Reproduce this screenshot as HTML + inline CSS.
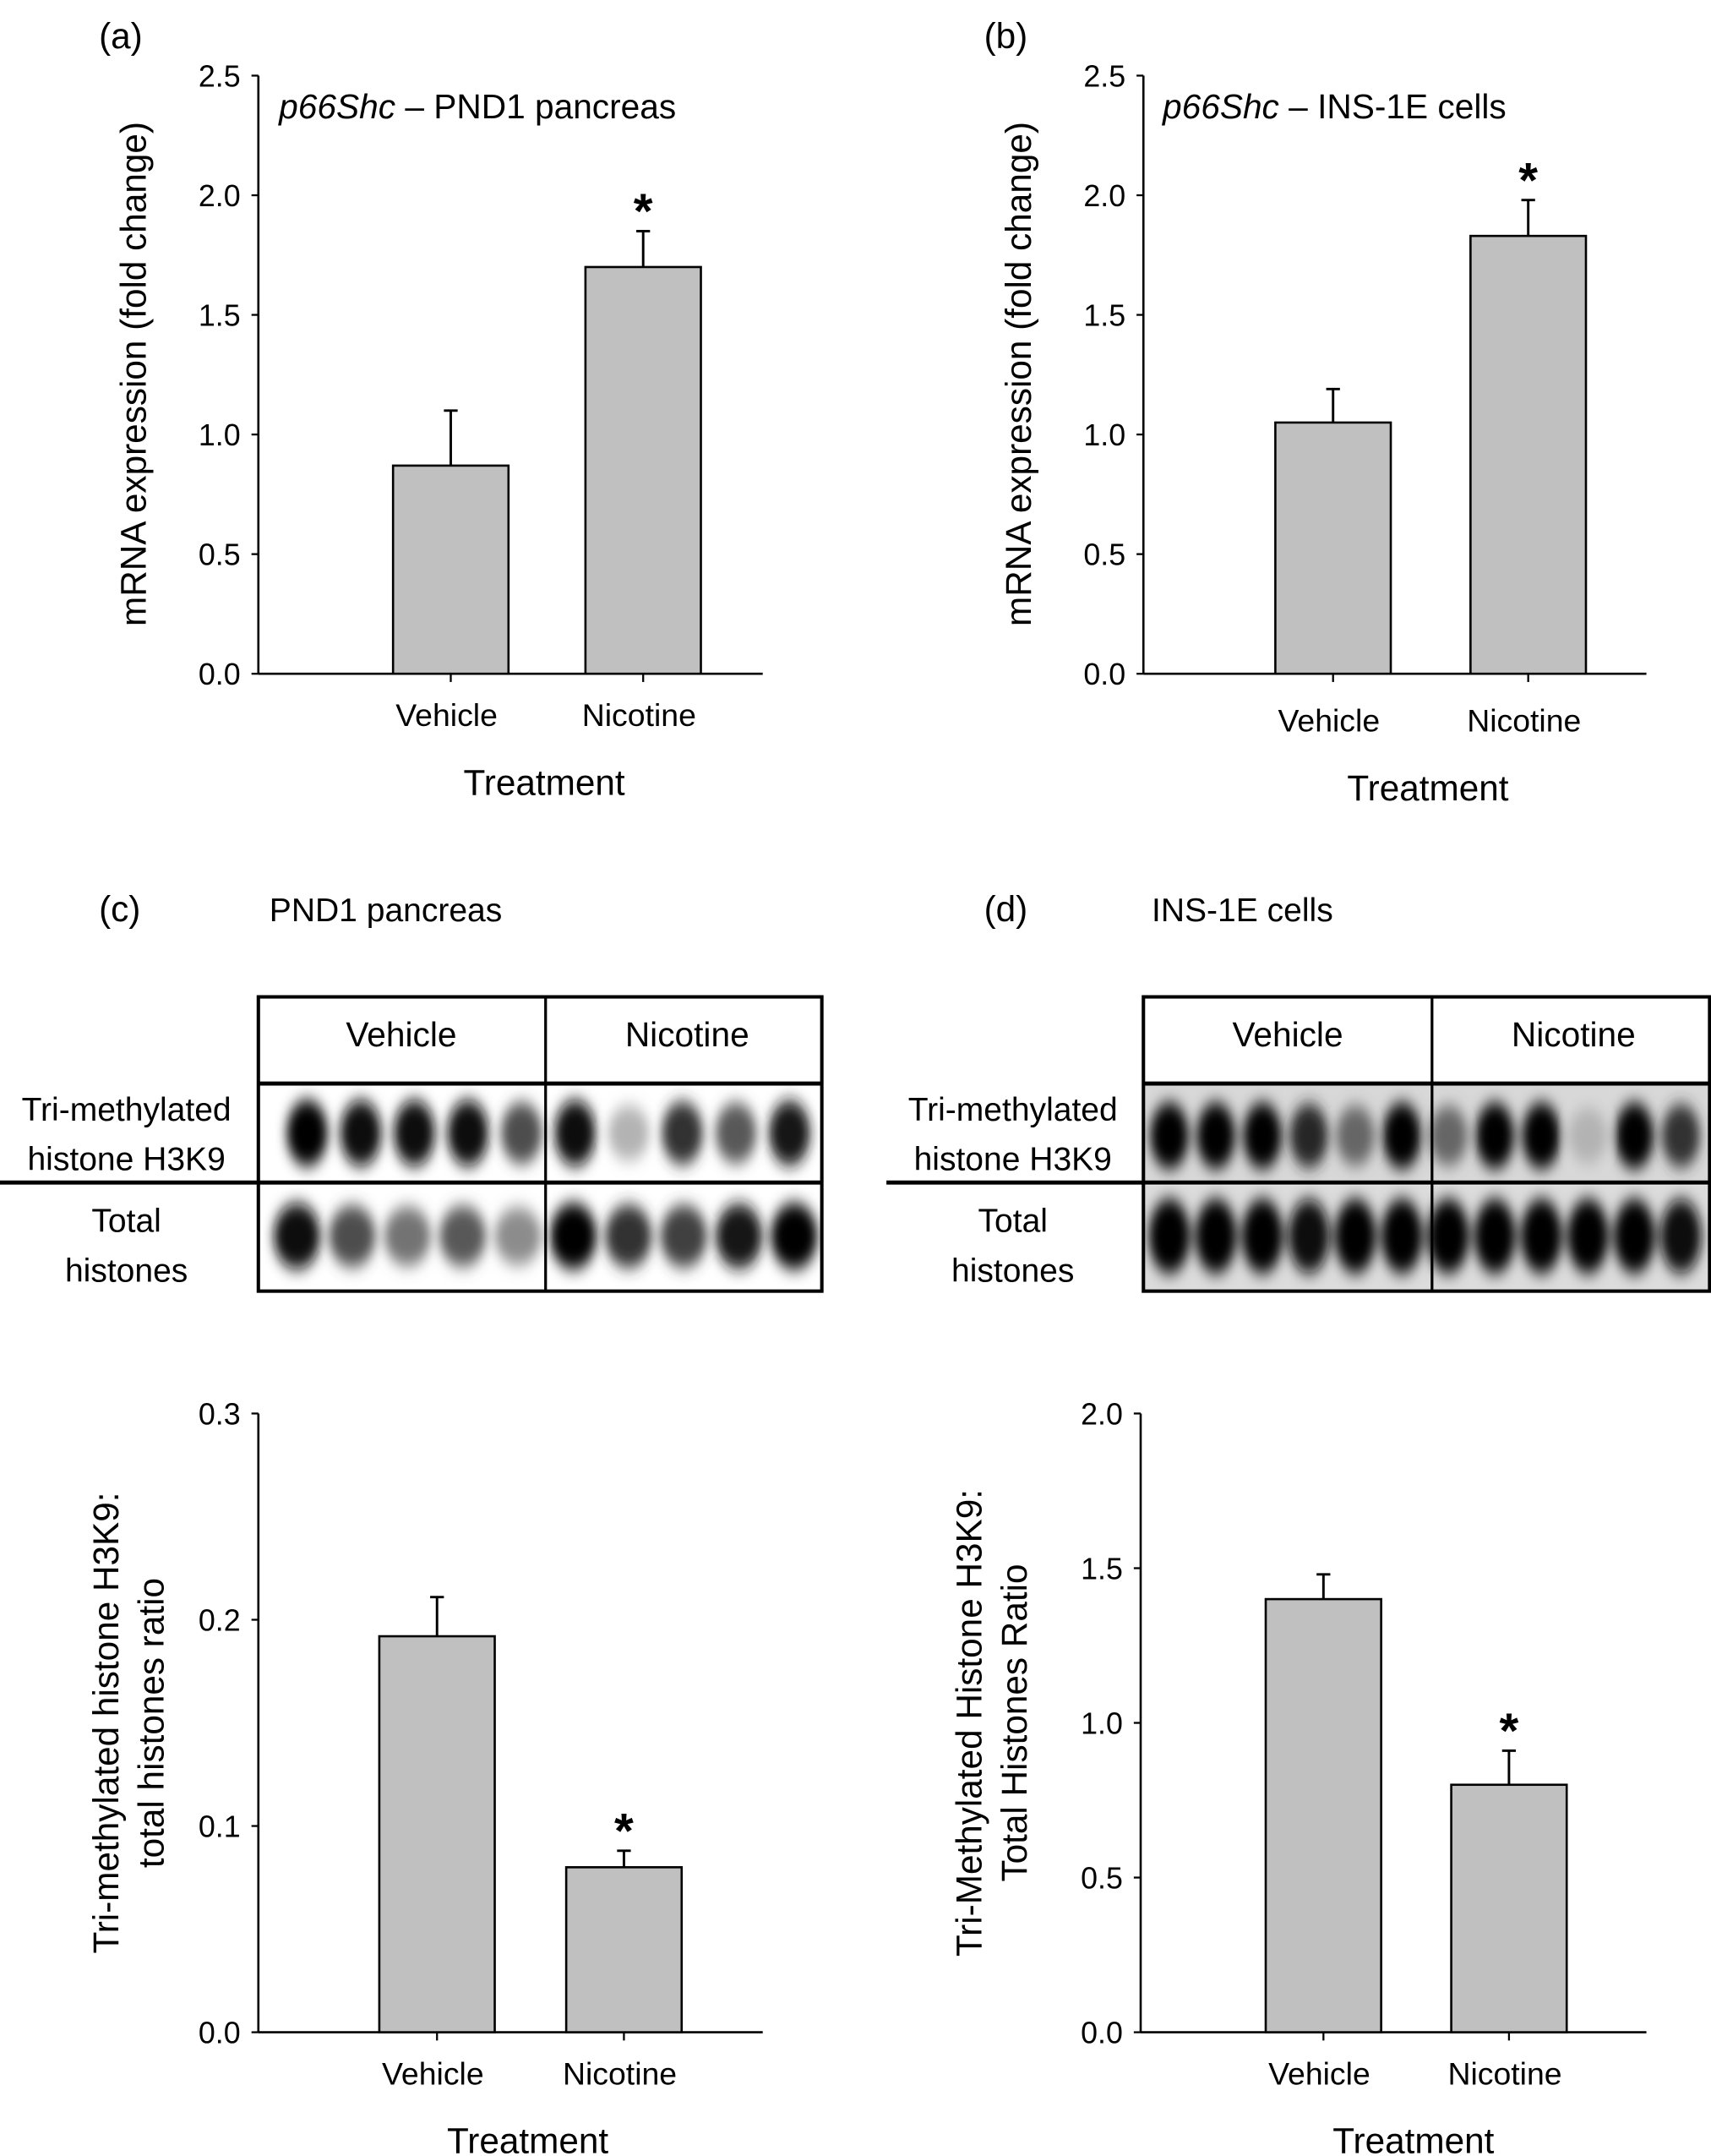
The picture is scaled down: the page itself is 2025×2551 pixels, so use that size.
<!DOCTYPE html>
<html><head><meta charset="utf-8"><style>
html,body{margin:0;padding:0;background:#fff;}
svg{display:block;font-family:"Liberation Sans",sans-serif;}
</style></head><body>
<svg id="fig" width="2025" height="2551" viewBox="0 0 1245 1568" preserveAspectRatio="none" xmlns="http://www.w3.org/2000/svg">
<defs>
<filter id="blur" x="-50%" y="-50%" width="200%" height="200%"><feGaussianBlur stdDeviation="4 6"/></filter>
<clipPath id="clipC1"><rect x="189" y="789" width="408" height="70"/></clipPath>
<clipPath id="clipC2"><rect x="189" y="862" width="408" height="77"/></clipPath>
<clipPath id="clipD1"><rect x="833" y="789" width="411" height="70"/></clipPath>
<clipPath id="clipD2"><rect x="833" y="862" width="411" height="77"/></clipPath>
</defs>
<text x="72" y="35" font-size="26">(a)</text>
<text x="716" y="35" font-size="26">(b)</text>
<text x="72" y="670" font-size="26">(c)</text>
<text x="196" y="670" font-size="24">PND1 pancreas</text>
<text x="716" y="670" font-size="26">(d)</text>
<text x="838" y="670" font-size="24">INS-1E cells</text>
<text x="203" y="86" font-size="25"><tspan font-style="italic">p66Shc</tspan> – PND1 pancreas</text>
<text x="846" y="86" font-size="25"><tspan font-style="italic">p66Shc</tspan> – INS-1E cells</text>

<g>
<rect x="189" y="789" width="408" height="70" fill="#fff"/>
<g id="bandsC1" clip-path="url(#clipC1)" filter="url(#blur)"></g>
<g id="bandsC2" clip-path="url(#clipC2)" filter="url(#blur)"></g>
<rect x="188" y="725" width="410" height="214" fill="none" stroke="#000" stroke-width="2.5"/>
<line x1="188" y1="788" x2="598" y2="788" stroke="#000" stroke-width="3"/>
<line x1="0" y1="860" x2="598" y2="860" stroke="#000" stroke-width="3"/>
<line x1="397" y1="725" x2="397" y2="939" stroke="#000" stroke-width="2"/>
<text x="292" y="761" font-size="25" text-anchor="middle">Vehicle</text>
<text x="500" y="761" font-size="25" text-anchor="middle">Nicotine</text>
<text x="92" y="815" font-size="24" text-anchor="middle">Tri-methylated</text>
<text x="92" y="851" font-size="24" text-anchor="middle">histone H3K9</text>
<text x="92" y="896" font-size="24" text-anchor="middle">Total</text>
<text x="92" y="932" font-size="24" text-anchor="middle">histones</text>
</g>
<g>
<rect x="833" y="789" width="411" height="70" fill="#d8d8d8"/>
<rect x="833" y="862" width="411" height="77" fill="#dcdcdc"/>
<g id="bandsD1" clip-path="url(#clipD1)" filter="url(#blur)"></g>
<g id="bandsD2" clip-path="url(#clipD2)" filter="url(#blur)"></g>
<rect x="832" y="725" width="412" height="214" fill="none" stroke="#000" stroke-width="2.5"/>
<line x1="832" y1="788" x2="1244" y2="788" stroke="#000" stroke-width="3"/>
<line x1="645" y1="860" x2="1244" y2="860" stroke="#000" stroke-width="3"/>
<line x1="1042" y1="725" x2="1042" y2="939" stroke="#000" stroke-width="2"/>
<text x="937" y="761" font-size="25" text-anchor="middle">Vehicle</text>
<text x="1145" y="761" font-size="25" text-anchor="middle">Nicotine</text>
<text x="737" y="815" font-size="24" text-anchor="middle">Tri-methylated</text>
<text x="737" y="851" font-size="24" text-anchor="middle">histone H3K9</text>
<text x="737" y="896" font-size="24" text-anchor="middle">Total</text>
<text x="737" y="932" font-size="24" text-anchor="middle">histones</text>
</g>
<g id="charts"></g>
</svg>
<script>
const categories = ["Vehicle", "Nicotine"];
const valuesA = [0.87, 1.70];
const errorsA = [0.23, 0.15];
const valuesB = [1.05, 1.83];
const errorsB = [0.14, 0.15];
const valuesC = [0.192, 0.080];
const errorsC = [0.019, 0.008];
const valuesD = [1.40, 0.80];
const errorsD = [0.08, 0.11];
const ticksA = ["0.0", "0.5", "1.0", "1.5", "2.0", "2.5"];
const ticksC = ["0.0", "0.1", "0.2", "0.3"];
const ticksD = ["0.0", "0.5", "1.0", "1.5", "2.0"];
const sigA = [false, true];
const sigB = [false, true];
const sigC = [false, true];
const sigD = [false, true];
const bandsC1 = [1.0, 0.95, 0.95, 0.95, 0.7, 0.95, 0.3, 0.8, 0.65, 0.9];
const bandsC2 = [0.95, 0.7, 0.55, 0.65, 0.45, 1.0, 0.8, 0.75, 0.9, 1.0];
const bandsD1 = [1.0, 1.0, 1.0, 0.85, 0.6, 1.0, 0.6, 1.0, 1.0, 0.3, 1.0, 0.8];
const bandsD2 = [1.0, 1.0, 1.0, 0.95, 1.0, 1.0, 1.0, 1.0, 1.0, 1.0, 1.0, 0.95];

const NS = "http://www.w3.org/2000/svg";
function mk(tag, attrs, parent) {
  const e = document.createElementNS(NS, tag);
  for (const k in attrs) e.setAttribute(k, attrs[k]);
  parent.appendChild(e);
  return e;
}
const root = document.getElementById("charts");

function drawChart(cfg) {
  const g = mk("g", {}, root);
  
  
  const ymax = parseFloat(cfg.ticks[cfg.ticks.length - 1]);
  const y = v => cfg.y0 - (v / ymax) * (cfg.y0 - cfg.y1);
  const xc = i => cfg.c0 + i * cfg.step;
  const ya = mk("line", {x1: cfg.x0, y1: cfg.y1, x2: cfg.x0, y2: cfg.y0, stroke: "#000", "stroke-width": 1.6}, g);
  
  
  const xa = mk("line", {x1: cfg.x0, y1: cfg.y0, x2: cfg.xEnd, y2: cfg.y0, stroke: "#000", "stroke-width": 1.6}, g);
  
  
  cfg.ticks.forEach(t => {
    const v = parseFloat(t);
    mk("line", {x1: cfg.x0 - 5, y1: y(v), x2: cfg.x0, y2: y(v), stroke: "#000", "stroke-width": 1.4}, g);
    const tx = mk("text", {x: cfg.x0 - 13, y: y(v) + 8, "font-size": 22, "text-anchor": "end"}, g);
    tx.textContent = t;
    
    
  });
  categories.forEach((c, i) => {
    const cx = xc(i);
    const v = cfg.values[i], e = cfg.errors[i];
    const bw = 84;
    mk("line", {x1: cx, y1: y(v), x2: cx, y2: y(v + e), stroke: "#000", "stroke-width": 1.8}, g);
    mk("line", {x1: cx - 5, y1: y(v + e), x2: cx + 5, y2: y(v + e), stroke: "#000", "stroke-width": 1.8}, g);
    const b = mk("rect", {x: cx - bw / 2, y: y(v), width: bw, height: y(0) - y(v), fill: "#c0c0c0", stroke: "#000", "stroke-width": 1.6}, g);
    
    
    mk("line", {x1: cx, y1: cfg.y0, x2: cx, y2: cfg.y0 + 6, stroke: "#000", "stroke-width": 1.4}, g);
    const lab = mk("text", {x: cx - 3, y: cfg.y0 + cfg.labDy, "font-size": 23, "text-anchor": "middle"}, g);
    lab.textContent = c;
    
    
    if (cfg.sig[i]) {
      const s = mk("text", {x: cx, y: y(v + e) - 2, "font-size": 36, "font-weight": "bold", "text-anchor": "middle"}, g);
      s.textContent = "*";
      
      
    }
  });
  const xt = mk("text", {x: (xc(0) + xc(1)) / 2 - 2, y: cfg.y0 + cfg.labDy + 50, "font-size": 26, "text-anchor": "middle"}, g);
  xt.textContent = "Treatment";
  
  
  cfg.ytitle.forEach((line, k) => {
    const tx = cfg.ytx + k * 33;
    const t = mk("text", {x: tx, y: cfg.yty, "font-size": 26, "text-anchor": "middle", transform: "rotate(-90 " + tx + " " + cfg.yty + ")"}, g);
    t.textContent = line;
    
    
  });
}

drawChart({name: "chart-a", x0: 188, xEnd: 555, y0: 490, y1: 55, c0: 328, step: 140, ticks: ticksA, values: valuesA, errors: errorsA, sig: sigA, labDy: 38, ytitle: ["mRNA expression (fold change)"], ytx: 106, yty: 272});
drawChart({name: "chart-b", x0: 832, xEnd: 1198, y0: 490, y1: 55, c0: 970, step: 142, ticks: ticksA, values: valuesB, errors: errorsB, sig: sigB, labDy: 42, ytitle: ["mRNA expression (fold change)"], ytx: 750, yty: 272});
drawChart({name: "chart-c", x0: 188, xEnd: 555, y0: 1478, y1: 1028, c0: 318, step: 136, ticks: ticksC, values: valuesC, errors: errorsC, sig: sigC, labDy: 38, ytitle: ["Tri-methylated histone H3K9:", "total histones ratio"], ytx: 86, yty: 1253});
drawChart({name: "chart-d", x0: 830, xEnd: 1198, y0: 1478, y1: 1028, c0: 963, step: 135, ticks: ticksD, values: valuesD, errors: errorsD, sig: sigD, labDy: 38, ytitle: ["Tri-Methylated Histone H3K9:", "Total Histones Ratio"], ytx: 714, yty: 1253});

function drawBands(id, arr, x0, x1, cy, rx, ry, name) {
  const g = document.getElementById(id);
  const n = arr.length;
  const step = (x1 - x0) / n;
  arr.forEach((d, i) => {
    const shade = Math.round(255 * (1 - d));
    const e = mk("ellipse", {cx: x0 + step * (i + 0.5), cy: cy, rx: rx, ry: ry * (0.75 + 0.25 * d), fill: "rgb(" + shade + "," + shade + "," + shade + ")"}, g);
    
    
  });
}
drawBands("bandsC1", bandsC1, 204, 594, 824, 15, 24, "band-h3k9-c");
drawBands("bandsC2", bandsC2, 196, 598, 899, 17, 24, "band-total-c");
drawBands("bandsD1", bandsD1, 834, 1240, 826, 14, 24, "band-h3k9-d");
drawBands("bandsD2", bandsD2, 834, 1240, 899, 15, 27, "band-total-d");
</script>
</body></html>
